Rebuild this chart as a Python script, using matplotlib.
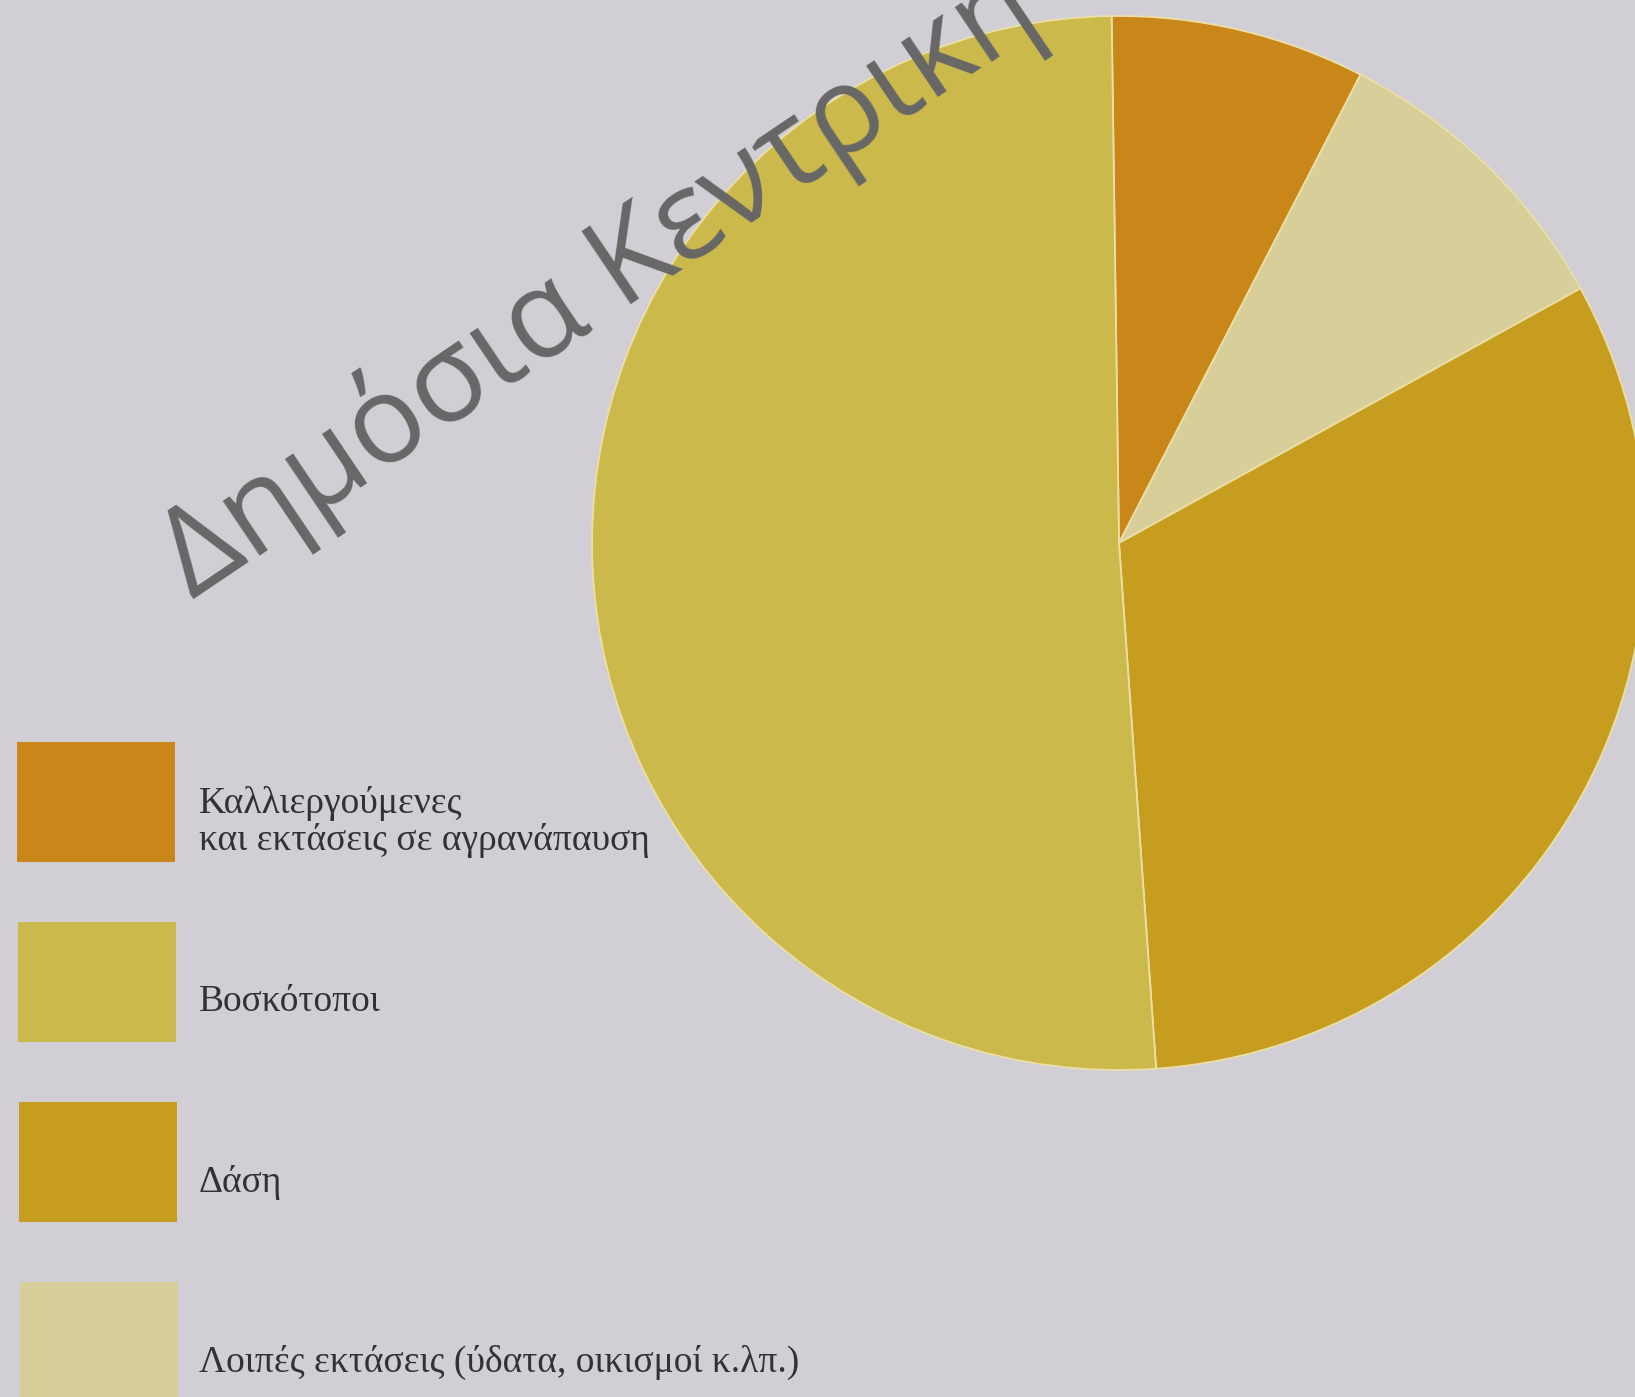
import matplotlib.pyplot as plt
from matplotlib.patches import Rectangle

# land use shares (%), in legend order
categories = [
    "Καλλιεργούμενες\nκαι εκτάσεις σε αγρανάπαυση",
    "Βοσκότοποι",
    "Δάση",
    "Λοιπές εκτάσεις (ύδατα, οικισμοί κ.λπ.)",
]
shares = [7.8, 50.9, 31.9, 9.4]
colors = ["#c98619", "#cbb94c", "#c69d1e", "#d7ce9a"]
# clockwise from the top of the pie
pie_order = [0, 3, 2, 1]

W, H = 1635, 1397
bg = "#d1cfd5"

fig = plt.figure(figsize=(W / 100, H / 100), dpi=100, facecolor=bg)
ax = fig.add_axes([0, 0, 1, 1])

ax.pie([shares[i] for i in pie_order],
       colors=[colors[i] for i in pie_order],
       center=(1119, H - 543), radius=527,
       startangle=90.8, counterclock=False,
       wedgeprops=dict(edgecolor="#ecdfa6", linewidth=1.3),
       frame=True)
ax.set_xlim(0, W)
ax.set_ylim(0, H)
ax.set_aspect("equal")
ax.axis("off")

# legend swatches with labels
for i, (lab, col) in enumerate(zip(categories, colors)):
    top = 742 + i * 180
    ax.add_patch(Rectangle((17 + i, H - top - 120), 158, 120, facecolor=col,
                           edgecolor="none"))
    ax.text(199, H - (top + 80), lab, fontsize=27, family="Liberation Serif",
            color="#323232", va="center", ha="left", linespacing=1.1)

# watermark
fig.text(192 / W, 1 - 600 / H, "Δημόσια Κεντρική", rotation=34,
         rotation_mode="anchor", ha="left", va="baseline",
         fontsize=88, family="Open Sans", color="#676767")

fig.savefig("out.png", dpi=100, facecolor=bg)
